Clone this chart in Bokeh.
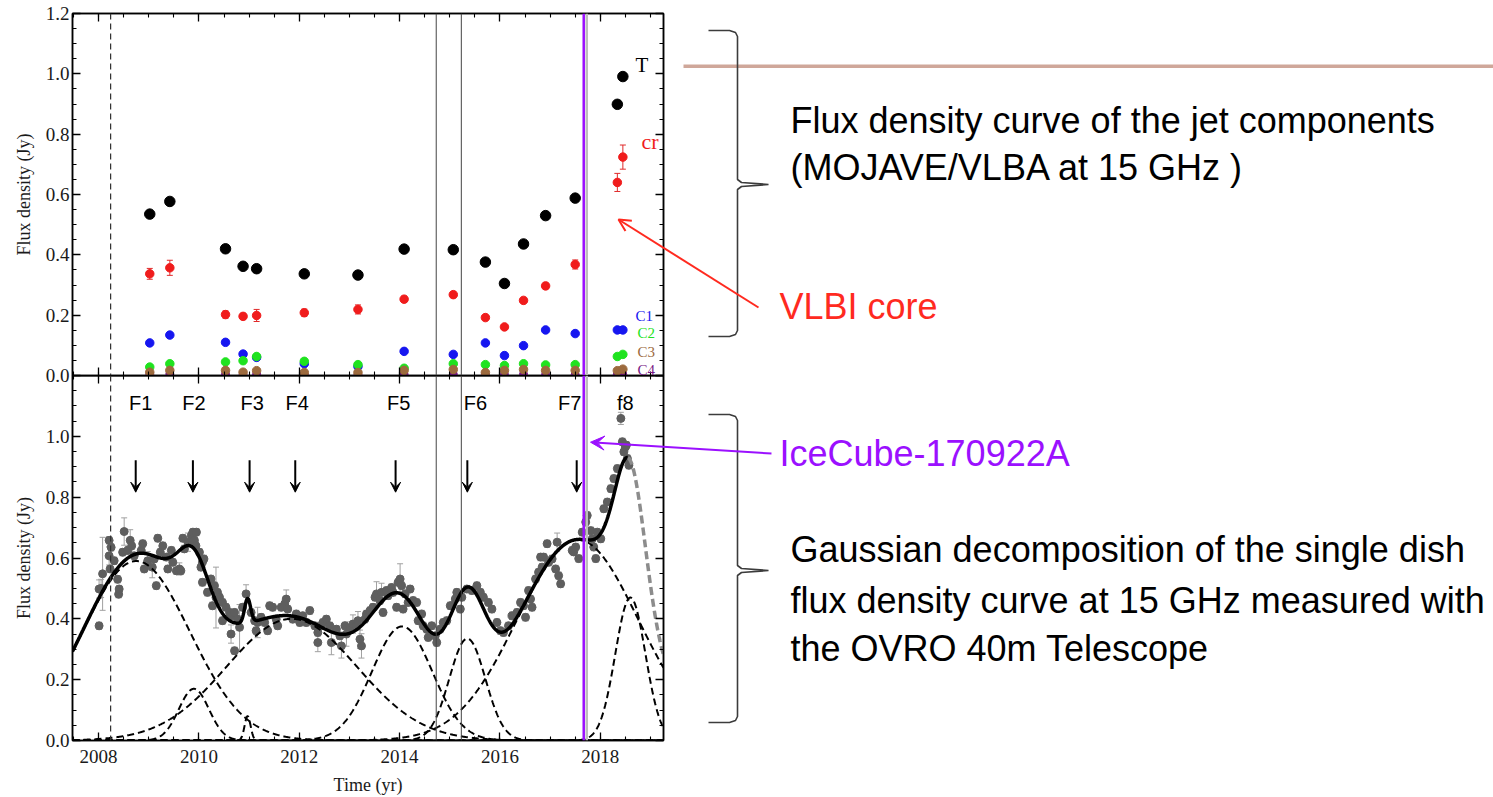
import numpy as np
from bokeh.plotting import figure
from bokeh.layouts import column, row
from bokeh.models import (Range1d, LinearAxis, FixedTicker, PrintfTickFormatter,
                          Span, Label, Arrow, VeeHead, OpenHead, TeeHead, Whisker,
                          ColumnDataSource)
from bokeh.embed import file_html
from bokeh.resources import INLINE

# ---------------- top panel: MOJAVE/VLBA jet components ----------------
epochs = [2009.02, 2009.42, 2010.53, 2010.88, 2011.15, 2012.10, 2013.17, 2014.09,
          2015.07, 2015.71, 2016.09, 2016.47, 2016.91, 2017.50, 2018.34, 2018.45]
flux_T = [0.535, 0.577, 0.420, 0.362, 0.354, 0.337, 0.333, 0.419,
          0.417, 0.376, 0.305, 0.436, 0.530, 0.588, 0.899, 0.991]
flux_cr = [0.337, 0.357, 0.202, 0.196, 0.199, 0.208, 0.219, 0.253,
           0.268, 0.192, 0.161, 0.249, 0.297, 0.368, 0.640, 0.724]
err_cr = [0.018, 0.025, 0.012, 0.010, 0.020, 0.012, 0.015, 0.010,
          0.010, 0.008, 0.008, 0.008, 0.010, 0.015, 0.030, 0.040]
flux_C1 = [0.108, 0.134, 0.110, 0.071, 0.060, 0.039, 0.030, 0.080,
           0.070, 0.108, 0.066, 0.099, 0.151, 0.139, 0.151, 0.151]
flux_C2 = [0.028, 0.039, 0.045, 0.049, 0.063, 0.047, 0.036, 0.024,
           0.039, 0.036, 0.033, 0.039, 0.035, 0.036, 0.063, 0.070]
flux_C3 = [0.011, 0.017, 0.017, 0.011, 0.016, 0.010, 0.010, 0.017,
           0.020, 0.010, 0.017, 0.020, 0.017, 0.017, 0.016, 0.021]
flux_C4 = [0.003, 0.005, 0.004, 0.003, 0.004, 0.003, 0.003, 0.004,
           0.004, 0.003, 0.003, 0.004, 0.003, 0.003, 0.004, 0.003]

# ---------------- bottom panel: OVRO 40m single dish light curve ----------------
t_ovro = [2008.01, 2008.01, 2008.05, 2008.08, 2008.21, 2008.21, 2008.23, 2008.25, 2008.31, 2008.38,
          2008.40, 2008.41, 2008.48, 2008.51, 2008.58, 2008.63, 2008.66, 2008.71, 2008.85, 2008.88,
          2008.91, 2008.98, 2009.07, 2009.11, 2009.15, 2009.18, 2009.23, 2009.28, 2009.35, 2009.38,
          2009.45, 2009.48, 2009.55, 2009.61, 2009.64, 2009.68, 2009.71, 2009.78, 2009.85, 2009.88,
          2009.91, 2009.94, 2009.95, 2010.01, 2010.04, 2010.07, 2010.07, 2010.10, 2010.17, 2010.24,
          2010.27, 2010.31, 2010.34, 2010.37, 2010.41, 2010.47, 2010.47, 2010.54, 2010.61, 2010.64,
          2010.64, 2010.71, 2010.71, 2010.77, 2010.81, 2010.87, 2010.94, 2011.04, 2011.11, 2011.14,
          2011.17, 2011.24, 2011.31, 2011.37, 2011.41, 2011.47, 2011.54, 2011.57, 2011.64, 2011.71,
          2011.74, 2011.77, 2011.87, 2011.94, 2012.01, 2012.07, 2012.14, 2012.21, 2012.31, 2012.37,
          2012.37, 2012.44, 2012.47, 2012.54, 2012.61, 2012.64, 2012.74, 2012.81, 2012.84, 2012.91,
          2012.94, 2013.01, 2013.07, 2013.14, 2013.17, 2013.21, 2013.24, 2013.31, 2013.34, 2013.41,
          2013.47, 2013.51, 2013.54, 2013.61, 2013.64, 2013.67, 2013.74, 2013.77, 2013.84, 2013.87,
          2013.94, 2013.97, 2014.01, 2014.04, 2014.07, 2014.11, 2014.17, 2014.21, 2014.27, 2014.34,
          2014.37, 2014.44, 2014.47, 2014.54, 2014.57, 2014.64, 2014.71, 2014.74, 2014.81, 2014.87,
          2014.94, 2015.01, 2015.04, 2015.11, 2015.14, 2015.21, 2015.24, 2015.34, 2015.44, 2015.54,
          2015.61, 2015.67, 2015.77, 2015.84, 2015.94, 2016.01, 2016.07, 2016.17, 2016.24, 2016.34,
          2016.41, 2016.47, 2016.51, 2016.57, 2016.61, 2016.64, 2016.71, 2016.77, 2016.81, 2016.84,
          2016.87, 2016.94, 2016.97, 2017.04, 2017.11, 2017.14, 2017.17, 2017.21, 2017.44, 2017.47,
          2017.51, 2017.57, 2017.64, 2017.71, 2017.74, 2017.81, 2017.84, 2017.87, 2017.91, 2017.94,
          2018.01, 2018.07, 2018.14, 2018.21, 2018.27, 2018.34, 2018.41, 2018.44, 2018.47, 2018.50,
          2018.52, 2018.54, 2018.57]
f_ovro = [0.377, 0.498, 0.500, 0.548, 0.658, 0.607, 0.564, 0.635, 0.591, 0.530,
          0.481, 0.498, 0.619, 0.687, 0.625, 0.658, 0.640, 0.607, 0.625, 0.647,
          0.564, 0.591, 0.570, 0.597, 0.509, 0.665, 0.619, 0.640, 0.603, 0.564,
          0.625, 0.586, 0.558, 0.564, 0.558, 0.665, 0.630, 0.652, 0.674, 0.685,
          0.658, 0.640, 0.685, 0.619, 0.570, 0.586, 0.520, 0.597, 0.487, 0.531,
          0.443, 0.509, 0.470, 0.487, 0.471, 0.454, 0.394, 0.438, 0.421, 0.410,
          0.350, 0.421, 0.295, 0.399, 0.372, 0.438, 0.482, 0.421, 0.394, 0.361,
          0.388, 0.405, 0.388, 0.361, 0.443, 0.438, 0.399, 0.377, 0.438, 0.449,
          0.465, 0.432, 0.399, 0.416, 0.388, 0.410, 0.388, 0.427, 0.377, 0.355,
          0.322, 0.377, 0.388, 0.399, 0.377, 0.322, 0.366, 0.344, 0.311, 0.377,
          0.350, 0.366, 0.383, 0.377, 0.394, 0.333, 0.311, 0.399, 0.416, 0.427,
          0.438, 0.471, 0.482, 0.460, 0.487, 0.421, 0.493, 0.476, 0.503, 0.487,
          0.438, 0.520, 0.531, 0.509, 0.432, 0.482, 0.454, 0.498, 0.460, 0.454,
          0.394, 0.416, 0.377, 0.366, 0.339, 0.377, 0.344, 0.322, 0.366, 0.388,
          0.394, 0.443, 0.443, 0.465, 0.487, 0.432, 0.471, 0.498, 0.493, 0.509,
          0.487, 0.471, 0.454, 0.432, 0.388, 0.361, 0.355, 0.377, 0.410, 0.421,
          0.454, 0.443, 0.405, 0.493, 0.465, 0.438, 0.531, 0.553, 0.603, 0.570,
          0.603, 0.647, 0.586, 0.597, 0.564, 0.652, 0.542, 0.515, 0.625, 0.620,
          0.636, 0.598, 0.685, 0.718, 0.740, 0.690, 0.663, 0.636, 0.598, 0.685,
          0.663, 0.762, 0.784, 0.828, 0.861, 0.894, 1.059, 0.982, 0.949, 0.965,
          0.971, 0.927, 0.905]
e_ovro = [0.012, 0.030, 0.030, 0.120, 0.012, 0.030, 0.012, 0.012, 0.012, 0.012,
          0.012, 0.012, 0.012, 0.045, 0.012, 0.035, 0.012, 0.012, 0.012, 0.012,
          0.012, 0.030, 0.035, 0.012, 0.012, 0.012, 0.012, 0.012, 0.012, 0.012,
          0.012, 0.012, 0.012, 0.020, 0.012, 0.012, 0.012, 0.030, 0.012, 0.012,
          0.012, 0.012, 0.012, 0.012, 0.012, 0.012, 0.012, 0.012, 0.012, 0.012,
          0.012, 0.012, 0.100, 0.012, 0.012, 0.012, 0.012, 0.012, 0.012, 0.012,
          0.030, 0.012, 0.012, 0.012, 0.075, 0.012, 0.030, 0.012, 0.012, 0.012,
          0.050, 0.012, 0.012, 0.012, 0.012, 0.012, 0.012, 0.012, 0.012, 0.012,
          0.030, 0.012, 0.012, 0.012, 0.012, 0.012, 0.012, 0.012, 0.012, 0.012,
          0.030, 0.012, 0.012, 0.012, 0.012, 0.040, 0.012, 0.012, 0.040, 0.012,
          0.040, 0.012, 0.030, 0.012, 0.030, 0.030, 0.040, 0.012, 0.012, 0.012,
          0.012, 0.012, 0.040, 0.012, 0.030, 0.012, 0.012, 0.012, 0.012, 0.012,
          0.012, 0.012, 0.050, 0.012, 0.012, 0.012, 0.012, 0.012, 0.012, 0.012,
          0.012, 0.012, 0.012, 0.012, 0.012, 0.012, 0.012, 0.012, 0.012, 0.012,
          0.012, 0.012, 0.012, 0.012, 0.012, 0.012, 0.012, 0.012, 0.012, 0.012,
          0.012, 0.012, 0.012, 0.012, 0.012, 0.012, 0.012, 0.012, 0.012, 0.012,
          0.012, 0.012, 0.012, 0.012, 0.012, 0.012, 0.012, 0.012, 0.012, 0.012,
          0.012, 0.012, 0.012, 0.012, 0.012, 0.030, 0.012, 0.012, 0.012, 0.012,
          0.012, 0.012, 0.012, 0.012, 0.012, 0.012, 0.012, 0.012, 0.012, 0.012,
          0.012, 0.012, 0.012, 0.012, 0.012, 0.012, 0.020, 0.012, 0.012, 0.012,
          0.012, 0.012, 0.012]

# Gaussian decomposition (centre [yr], amplitude [Jy], sigma [yr]) for F1..F7, f8
comp_center = [2008.75, 2009.90, 2010.97, 2011.85, 2014.05, 2015.35, 2017.55, 2018.60]
comp_amp = [0.59, 0.17, 0.08, 0.40, 0.375, 0.335, 0.66, 0.47]
comp_sigma = [1.07, 0.30, 0.06, 1.30, 0.60, 0.36, 1.20, 0.30]
fit_end = 2018.55  # solid model stops here; grey dashed extrapolation beyond

flare_names = ["F1", "F2", "F3", "F4", "F5", "F6", "F7", "f8"]
flare_label_x = [2008.84, 2009.90, 2011.06, 2011.96, 2013.98, 2015.51, 2017.39, 2018.50]
flare_arrow_x = [2008.74, 2009.88, 2011.01, 2011.92, 2013.92, 2015.35, 2017.53]

vline_dashed = [2008.24]
vline_thin = [2014.73, 2015.23]
icecube_x = 2017.67
icecube_shade_x = 2017.73

x_ticks = [2008, 2010, 2012, 2014, 2016, 2018]
x_minor = [2007.5 + 0.5 * i for i in range(24)]
y_ticks_top = [0.0, 0.2, 0.4, 0.6, 0.8, 1.0, 1.2]
y_ticks_bot = [0.0, 0.2, 0.4, 0.6, 0.8, 1.0]
y_minor = [0.05 * i for i in range(25)]

# ---------------- geometry (page pixels) ----------------
X0, X1 = 2007.48, 2019.26
FR_L, FR_R = 72, 663
TOP_T, TOP_B = 13, 375
BOT_T, BOT_B = 375, 741
PAGE_W, PAGE_H = 1493, 797
LEFT_W = 680          # width of the two plot figures
OVL_X = 580           # where the annotation overlay starts


def px2x(px):
    return X0 + (px - FR_L) * (X1 - X0) / (FR_R - FR_L)


def py_top(py):
    return 1.2 * (TOP_B - py) / (TOP_B - TOP_T)


def py_bot(py):
    return 1.2 * (BOT_B - py) / (BOT_B - BOT_T)


xr = Range1d(X0, X1)
SERIF = "Liberation Serif"
SANS = "Liberation Sans"


def make_fig(height, mtop, mbot):
    p = figure(width=LEFT_W, height=height, x_range=xr, y_range=Range1d(0, 1.2),
               x_axis_type=None, y_axis_type=None, toolbar_location=None,
               output_backend="svg", min_border_left=FR_L,
               min_border_right=LEFT_W - FR_R,
               min_border_top=mtop, min_border_bottom=mbot)
    p.outline_line_color = "black"
    p.outline_line_width = 1.5
    return p


def add_axis(p, side, ticks, minor, show_labels, fmt="%.1f", title=None):
    ax = LinearAxis(ticker=FixedTicker(ticks=ticks, minor_ticks=minor))
    ax.axis_line_color = "black"
    ax.axis_line_width = 1.5
    ax.major_tick_in = 8
    ax.major_tick_out = 0
    ax.minor_tick_in = 4
    ax.minor_tick_out = 0
    ax.major_tick_line_width = 1.3
    ax.minor_tick_line_width = 1.1
    if show_labels:
        ax.formatter = PrintfTickFormatter(format=fmt)
        ax.major_label_text_font = SERIF
        ax.major_label_text_font_size = "19px"
        ax.major_label_text_color = "#1a1a1a"
        ax.major_label_standoff = 3 if side == "left" else 9
    else:
        ax.major_label_text_font_size = "0px"
        ax.major_label_text_color = None
        ax.major_label_standoff = 0
    if title:
        ax.axis_label = title
        ax.axis_label_text_font = SERIF
        ax.axis_label_text_font_size = "18px"
        ax.axis_label_text_font_style = "normal"
        ax.axis_label_text_color = "#1a1a1a"
        ax.axis_label_standoff = 9 if side == "left" else 9
    p.add_layout(ax, side)


def add_vlines(p):
    for x in vline_dashed:
        p.add_layout(Span(location=x, dimension="height", line_color="#333333",
                          line_width=1.2, line_dash="6 4"))
    for x in vline_thin:
        p.add_layout(Span(location=x, dimension="height", line_color="#444444",
                          line_width=1))
    p.add_layout(Span(location=icecube_shade_x, dimension="height",
                      line_color="#bdbdbd", line_width=2.5))
    p.add_layout(Span(location=icecube_x, dimension="height",
                      line_color="#9b10ff", line_width=2.5))


def text(p, x, y, s, color="black", size="36px", font=SANS, align="left"):
    p.add_layout(Label(x=x, y=y, text=s, text_color=color, text_font=font,
                       text_font_size=size, text_align=align,
                       text_baseline="middle"))


# ---------------- top figure ----------------
top = make_fig(TOP_B + 12, TOP_T, 12)
add_axis(top, "left", y_ticks_top, y_minor, True, title="Flux density (Jy)")
add_axis(top, "right", y_ticks_top, y_minor, False)
add_axis(top, "above", x_ticks, x_minor, False)
add_axis(top, "below", x_ticks, x_minor, False)
add_vlines(top)

src_top = ColumnDataSource(dict(t=epochs, T=flux_T, cr=flux_cr,
                                up=[c + e for c, e in zip(flux_cr, err_cr)],
                                lo=[c - e for c, e in zip(flux_cr, err_cr)],
                                C1=flux_C1, C2=flux_C2, C3=flux_C3, C4=flux_C4))
wk = Whisker(source=src_top, base="t", upper="up", lower="lo", dimension="height",
             line_color="#e02a2a", line_width=1,
             upper_head=TeeHead(size=6, line_color="#e02a2a", line_width=1),
             lower_head=TeeHead(size=6, line_color="#e02a2a", line_width=1))
wk.level = "underlay"
top.add_layout(wk)
top.scatter("t", "C1", source=src_top, size=8.5, color="#1616f0")
top.scatter("t", "C2", source=src_top, size=8.5, color="#1fe31f")
top.scatter("t", "C4", source=src_top, size=8, color="#7a1a86")
top.scatter("t", "C3", source=src_top, size=8.5, color="#9c6a3e")
top.scatter("t", "cr", source=src_top, size=8.5, color="#f01c1c")
top.scatter("t", "T", source=src_top, size=10.5, color="black")

text(top, px2x(635), py_top(64), "T", "black", "21px", SERIF)
text(top, px2x(641), py_top(141), "cr", "#f01c1c", "22px", SERIF)
text(top, px2x(635), py_top(315), "C1", "#1616f0", "15px", SERIF)
text(top, px2x(637), py_top(332), "C2", "#1fe31f", "15px", SERIF)
text(top, px2x(637), py_top(351), "C3", "#9c6a3e", "15px", SERIF)
text(top, px2x(637), py_top(369), "C4", "#7a1a86", "15px", SERIF)

# ---------------- bottom figure ----------------
BOT_MB = PAGE_H - BOT_B
bot = make_fig(BOT_B - BOT_T + BOT_MB, 0, BOT_MB)
bot.background_fill_alpha = 0
bot.border_fill_alpha = 0
bot.styles = {"margin-top": "-12px"}
add_axis(bot, "left", y_ticks_bot, y_minor, True, title="Flux density (Jy)")
add_axis(bot, "right", y_ticks_top, y_minor, False)
add_axis(bot, "above", x_ticks, x_minor, False)
add_axis(bot, "below", x_ticks, x_minor, True, fmt="%d", title="Time (yr)")
add_vlines(bot)

src_o = ColumnDataSource(dict(t=t_ovro, f=f_ovro,
                              up=[f + e for f, e in zip(f_ovro, e_ovro)],
                              lo=[f - e for f, e in zip(f_ovro, e_ovro)]))
wo = Whisker(source=src_o, base="t", upper="up", lower="lo", dimension="height",
             line_color="#a0a0a0", line_width=1,
             upper_head=TeeHead(size=6, line_color="#a0a0a0", line_width=1),
             lower_head=TeeHead(size=6, line_color="#a0a0a0", line_width=1))
wo.level = "underlay"
bot.add_layout(wo)
bot.scatter("t", "f", source=src_o, size=8, color="#5e5e5e")

tt = np.linspace(X0, X1, 1500)
comps = [a * np.exp(-0.5 * ((tt - c) / s) ** 2)
         for c, a, s in zip(comp_center, comp_amp, comp_sigma)]
total = np.sum(comps, axis=0)
for cv in comps:
    bot.line(tt, cv, line_color="black", line_width=2, line_dash="7 4")
m1 = tt <= fit_end
m2 = tt >= fit_end
bot.line(tt[m1], total[m1], line_color="black", line_width=3.5)
bot.line(tt[m2], total[m2], line_color="#8c8c8c", line_width=3.5, line_dash="8 4")

for name, lx in zip(flare_names, flare_label_x):
    text(bot, lx, py_bot(403), name, "black", "20px", SANS, "center")
for ax_ in flare_arrow_x:
    bot.add_layout(Arrow(end=VeeHead(size=10, fill_color="black", line_color="black"),
                         x_start=ax_, y_start=py_bot(460), x_end=ax_, y_end=py_bot(492),
                         line_color="black", line_width=2))

# ---------------- annotation overlay (slide text, braces, pointer arrows) ----------------
ovl = figure(width=PAGE_W - OVL_X, height=PAGE_H,
             x_range=Range1d(OVL_X, PAGE_W), y_range=Range1d(PAGE_H, 0),
             x_axis_type=None, y_axis_type=None, toolbar_location=None,
             output_backend="svg", min_border=0)
ovl.outline_line_color = None
ovl.background_fill_alpha = 0
ovl.border_fill_alpha = 0
ovl.styles = {"margin-left": "-%dpx" % (LEFT_W - OVL_X)}

ovl.line([683, PAGE_W], [65.7, 65.7], line_color="#cfa79a", line_width=3.5)


def brace(y_top, y_mid, y_bot):
    xs = [708, 729, 735, 737, 737, 741, 768, 741, 737, 737, 735, 729, 708]
    ys = [y_top, y_top, y_top + 2, y_top + 6, y_mid - 5, y_mid - 2, y_mid,
          y_mid + 2, y_mid + 5, y_bot - 6, y_bot - 2, y_bot, y_bot]
    ovl.line(xs, ys, line_color="#3c3c3c", line_width=1.6)


brace(30, 184, 336)
brace(414, 570, 722)

text(ovl, 790, 120, "Flux density curve of the jet components")
text(ovl, 790, 167, "(MOJAVE/VLBA at 15 GHz )")
text(ovl, 779, 306, "VLBI core", "#ff2a1f")
text(ovl, 779, 453, "IceCube-170922A", "#9b10ff")
text(ovl, 790, 549, "Gaussian decomposition of the single dish")
text(ovl, 790, 600, "flux density curve at 15 GHz measured with")
text(ovl, 790, 648, "the OVRO 40m Telescope")

ovl.add_layout(Arrow(end=OpenHead(size=12, line_color="#ff2a1f", line_width=2),
                     x_start=758, y_start=307, x_end=618, y_end=219,
                     line_color="#ff2a1f", line_width=2))
ovl.add_layout(Arrow(end=VeeHead(size=14, fill_color="#9b10ff", line_color="#9b10ff"),
                     x_start=771, y_start=453, x_end=590, y_end=441.7,
                     line_color="#9b10ff", line_width=2))

layout = row(column(top, bot), ovl)
open("out.html", "w").write(file_html(layout, INLINE))
